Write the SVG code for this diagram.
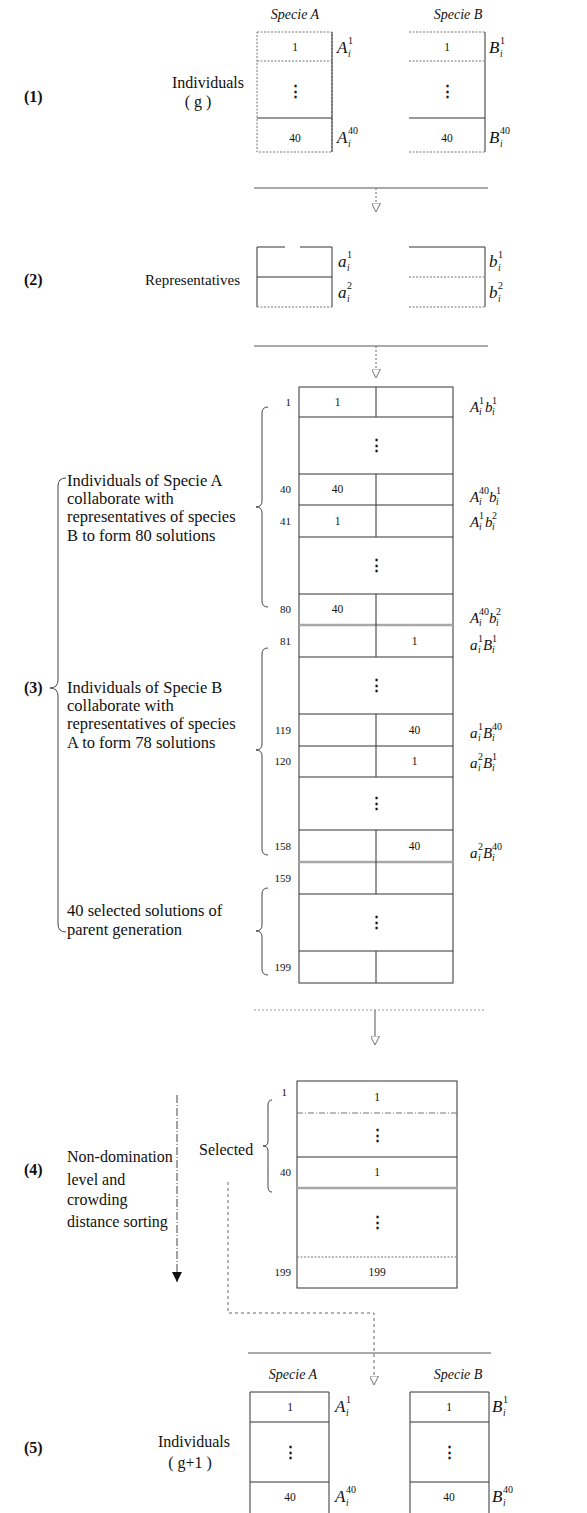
<svg xmlns="http://www.w3.org/2000/svg" width="587" height="1513" viewBox="0 0 587 1513">
<style>
text{font-family:"Liberation Serif","DejaVu Serif",serif;fill:#111}
.lab{font-size:16px}
.lab2{font-size:16.5px}
.sec{font-size:16px;font-weight:bold}
.hd{font-size:14px;font-style:italic}
.num{font-size:11px}
.cell{font-size:11.5px;text-anchor:middle}
.dots{font-size:15px;text-anchor:middle;font-weight:bold}
.m{font-size:15px;font-style:italic}
.M{font-size:17px;font-style:italic}
.s{font-size:9.5px;font-style:italic}
.sn{font-size:10px;font-style:normal}
.ln{fill:none;stroke:#333;stroke-width:1}
.fn{fill:none;stroke:#777;stroke-width:1;stroke-dasharray:2 1.5}
.gr{fill:none;stroke:#a8a8a8;stroke-width:2.5}
.br{fill:none;stroke:#444;stroke-width:1}
.cn{fill:none;stroke:#555;stroke-width:1}
.cd{fill:none;stroke:#666;stroke-width:1;stroke-dasharray:2 2}
</style>
<defs>
<marker id="ah" viewBox="0 0 10 10" refX="10" refY="5" markerWidth="9" markerHeight="9" markerUnits="userSpaceOnUse" orient="auto">
<path d="M0,0 L10,5 L0,10 Z" fill="#fff" stroke="#888" stroke-width="1.2"/>
</marker>
<marker id="bk" viewBox="0 0 10 10" refX="10" refY="5" markerWidth="10" markerHeight="10" markerUnits="userSpaceOnUse" orient="auto">
<path d="M0,0 L10,5 L0,10 Z" fill="#111"/>
</marker>
</defs>

<!-- Step labels -->
<g id="step-labels">
<text class="sec" x="24" y="102">(1)</text>
<text class="sec" x="24" y="285">(2)</text>
<text class="sec" x="24" y="693">(3)</text>
<text class="sec" x="24" y="1175">(4)</text>
<text class="sec" x="24" y="1453">(5)</text>
</g>

<!-- Section 1 -->
<g id="individuals-g">
<text class="hd" x="295" y="19" text-anchor="middle">Specie A</text>
<text class="hd" x="458" y="19" text-anchor="middle">Specie B</text>
<text class="lab" x="208" y="88" text-anchor="middle">Individuals</text>
<text class="lab" x="198" y="107" text-anchor="middle">( g )</text>
</g>
<g id="popA-g">
<rect class="fn" x="257" y="32" width="75" height="120"/>
<line class="ln" x1="332" y1="32" x2="332" y2="152"/>
<line class="fn" x1="257" y1="61" x2="332" y2="61"/>
<line class="ln" x1="257" y1="118" x2="332" y2="118"/>
<text class="cell" x="295" y="51">1</text>
<text class="dots" x="295" y="96">⋮</text>
<text class="cell" x="295" y="142">40</text>
<text class="M"><tspan x="337" y="53">A</tspan><tspan class="s" x="348" y="57">i</tspan><tspan class="sn" x="348" y="44">1</tspan></text>
<text class="M"><tspan x="337" y="143">A</tspan><tspan class="s" x="348" y="147">i</tspan><tspan class="sn" x="348" y="134">40</tspan></text>
</g>
<g id="popB-g">
<line class="fn" x1="409" y1="32" x2="485" y2="32"/>
<line class="ln" x1="485" y1="32" x2="485" y2="152"/>
<line class="fn" x1="409" y1="152" x2="485" y2="152"/>
<line class="fn" x1="409" y1="61" x2="485" y2="61"/>
<line class="ln" x1="409" y1="118" x2="485" y2="118"/>
<text class="cell" x="447" y="51">1</text>
<text class="dots" x="447" y="96">⋮</text>
<text class="cell" x="447" y="142">40</text>
<text class="M"><tspan x="489" y="53">B</tspan><tspan class="s" x="500" y="57">i</tspan><tspan class="sn" x="500" y="44">1</tspan></text>
<text class="M"><tspan x="489" y="143">B</tspan><tspan class="s" x="500" y="147">i</tspan><tspan class="sn" x="500" y="134">40</tspan></text>
</g>

<!-- Section 2 -->
<g id="representatives">
<text x="240" y="285" text-anchor="end" style="font-size:15px">Representatives</text>
</g>
<g id="repA">
<line class="ln" x1="257" y1="247" x2="285" y2="247"/>
<line class="ln" x1="300" y1="247" x2="332" y2="247"/>
<line class="ln" x1="257" y1="247" x2="257" y2="307"/>
<line class="ln" x1="332" y1="247" x2="332" y2="307"/>
<line class="ln" x1="257" y1="277" x2="332" y2="277"/>
<line class="fn" x1="257" y1="307" x2="332" y2="307"/>
<text class="M"><tspan x="338" y="267">a</tspan><tspan class="s" x="347" y="271">i</tspan><tspan class="sn" x="347" y="258">1</tspan></text>
<text class="M"><tspan x="338" y="298">a</tspan><tspan class="s" x="347" y="302">i</tspan><tspan class="sn" x="347" y="289">2</tspan></text>
</g>
<g id="repB">
<line class="ln" x1="409" y1="247" x2="485" y2="247"/>
<line class="ln" x1="485" y1="247" x2="485" y2="307"/>
<line class="fn" x1="409" y1="277" x2="485" y2="277"/>
<line class="fn" x1="409" y1="307" x2="485" y2="307"/>
<text class="M"><tspan x="489" y="267">b</tspan><tspan class="s" x="498" y="271">i</tspan><tspan class="sn" x="498" y="258">1</tspan></text>
<text class="M"><tspan x="489" y="298">b</tspan><tspan class="s" x="498" y="302">i</tspan><tspan class="sn" x="498" y="289">2</tspan></text>
</g>

<!-- Section 3 -->
<g id="solutions-text">
<path class="br" d="M66,478 Q58,478 58,486 L58,680 Q58,688 50,688 Q58,688 58,696 L58,924 Q58,932 66,932"/>
<text class="lab2" x="67" y="486">Individuals of Specie A</text>
<text class="lab2" x="67" y="504">collaborate with</text>
<text class="lab2" x="67" y="522">representatives of  species</text>
<text class="lab2" x="67" y="541">B to form 80 solutions</text>
<text class="lab2" x="67" y="693">Individuals of Specie B</text>
<text class="lab2" x="67" y="711">collaborate with</text>
<text class="lab2" x="67" y="729">representatives of species</text>
<text class="lab2" x="67" y="748">A to form 78 solutions</text>
<text class="lab2" x="67" y="916">40  selected solutions of</text>
<text class="lab2" x="67" y="935">parent generation</text>
</g>
<g id="braces-3">
<path class="br" d="M268,407 Q262,407 262,413 L262,501 Q262,507 256,507 Q262,507 262,513 L262,601 Q262,607 268,607"/>
<path class="br" d="M268,648 Q262,648 262,654 L262,744 Q262,750 256,750 Q262,750 262,756 L262,849 Q262,855 268,855"/>
<path class="br" d="M268,888 Q262,888 262,894 L262,925 Q262,931 256,931 Q262,931 262,937 L262,969 Q262,975 268,975"/>
</g>
<g id="combined-table">
<rect class="ln" x="299" y="387" width="154" height="596"/>
<path class="ln" d="M299,417H453 M299,474H453 M299,505H453 M299,537H453 M299,594H453 M299,657H453 M299,714H453 M299,746H453 M299,777H453 M299,830H453 M299,894H453 M299,951H453"/>
<line class="gr" x1="299" y1="625" x2="453" y2="625"/>
<line class="gr" x1="299" y1="862" x2="453" y2="862"/>
<path class="ln" d="M376,387V417 M376,474V537 M376,594V657 M376,714V777 M376,830V894 M376,951V983"/>
<text class="dots" x="376" y="450">⋮</text>
<text class="dots" x="376" y="570">⋮</text>
<text class="dots" x="376" y="690">⋮</text>
<text class="dots" x="376" y="808">⋮</text>
<text class="dots" x="376" y="927">⋮</text>
<text class="cell" x="337.5" y="406">1</text>
<text class="cell" x="337.5" y="493">40</text>
<text class="cell" x="337.5" y="525">1</text>
<text class="cell" x="337.5" y="613">40</text>
<text class="cell" x="414.5" y="645">1</text>
<text class="cell" x="414.5" y="734">40</text>
<text class="cell" x="414.5" y="765">1</text>
<text class="cell" x="414.5" y="850">40</text>
<text class="num" x="291" y="406" text-anchor="end">1</text>
<text class="num" x="291" y="493" text-anchor="end">40</text>
<text class="num" x="291" y="525" text-anchor="end">41</text>
<text class="num" x="291" y="613" text-anchor="end">80</text>
<text class="num" x="291" y="645" text-anchor="end">81</text>
<text class="num" x="291" y="734" text-anchor="end">119</text>
<text class="num" x="291" y="765" text-anchor="end">120</text>
<text class="num" x="291" y="850" text-anchor="end">158</text>
<text class="num" x="291" y="882" text-anchor="end">159</text>
<text class="num" x="291" y="971" text-anchor="end">199</text>
</g>
<g id="pair-labels">
<text class="m"><tspan x="470" y="412">A</tspan><tspan class="s" x="479" y="415">i</tspan><tspan class="sn" x="479" y="404">1</tspan><tspan x="485" y="412">b</tspan><tspan class="s" x="492" y="415">i</tspan><tspan class="sn" x="492" y="404">1</tspan></text>
<text class="m"><tspan x="470" y="502">A</tspan><tspan class="s" x="479" y="505">i</tspan><tspan class="sn" x="479" y="494">40</tspan><tspan x="489" y="502">b</tspan><tspan class="s" x="496" y="505">i</tspan><tspan class="sn" x="496" y="494">1</tspan></text>
<text class="m"><tspan x="470" y="527">A</tspan><tspan class="s" x="479" y="530">i</tspan><tspan class="sn" x="479" y="519">1</tspan><tspan x="485" y="527">b</tspan><tspan class="s" x="492" y="530">i</tspan><tspan class="sn" x="492" y="519">2</tspan></text>
<text class="m"><tspan x="470" y="623">A</tspan><tspan class="s" x="479" y="626">i</tspan><tspan class="sn" x="479" y="615">40</tspan><tspan x="489" y="623">b</tspan><tspan class="s" x="496" y="626">i</tspan><tspan class="sn" x="496" y="615">2</tspan></text>
<text class="m"><tspan x="470" y="650">a</tspan><tspan class="s" x="478" y="653">i</tspan><tspan class="sn" x="478" y="642">1</tspan><tspan x="483" y="650">B</tspan><tspan class="s" x="492" y="653">i</tspan><tspan class="sn" x="492" y="642">1</tspan></text>
<text class="m"><tspan x="470" y="738">a</tspan><tspan class="s" x="478" y="741">i</tspan><tspan class="sn" x="478" y="730">1</tspan><tspan x="483" y="738">B</tspan><tspan class="s" x="492" y="741">i</tspan><tspan class="sn" x="492" y="730">40</tspan></text>
<text class="m"><tspan x="470" y="768">a</tspan><tspan class="s" x="478" y="771">i</tspan><tspan class="sn" x="478" y="760">2</tspan><tspan x="483" y="768">B</tspan><tspan class="s" x="492" y="771">i</tspan><tspan class="sn" x="492" y="760">1</tspan></text>
<text class="m"><tspan x="470" y="858">a</tspan><tspan class="s" x="478" y="861">i</tspan><tspan class="sn" x="478" y="850">2</tspan><tspan x="483" y="858">B</tspan><tspan class="s" x="492" y="861">i</tspan><tspan class="sn" x="492" y="850">40</tspan></text>
</g>

<!-- Section 4 -->
<g id="sorting-text">
<text class="lab" x="67" y="1162">Non-domination</text>
<text class="lab" x="67" y="1185">level  and</text>
<text class="lab" x="67" y="1205">crowding</text>
<text class="lab" x="67" y="1227">distance sorting</text>
</g>
<g id="selected">
<text class="lab" x="199" y="1155">Selected</text>
<path class="br" d="M272,1100 Q268,1100 268,1105 L268,1141 Q268,1146 263,1146 Q268,1146 268,1151 L268,1187 Q268,1192 272,1192"/>
</g>
<g id="sorted-table">
<rect class="ln" x="297" y="1081" width="160" height="207"/>
<line class="fn" x1="297" y1="1113" x2="457" y2="1113" style="stroke-dasharray:6 2 1 2"/>
<line class="ln" x1="297" y1="1157" x2="457" y2="1157"/>
<line class="gr" x1="297" y1="1188" x2="457" y2="1188"/>
<line class="fn" x1="297" y1="1257" x2="457" y2="1257"/>
<text class="cell" x="377" y="1101">1</text>
<text class="dots" x="377" y="1140">⋮</text>
<text class="cell" x="377" y="1176">1</text>
<text class="dots" x="377" y="1227">⋮</text>
<text class="cell" x="377" y="1276">199</text>
<text class="num" x="287" y="1096" text-anchor="end">1</text>
<text class="num" x="291" y="1176" text-anchor="end">40</text>
<text class="num" x="291" y="1276" text-anchor="end">199</text>
</g>

<!-- Section 5 -->
<g id="individuals-g1">
<text class="hd" x="293" y="1379" text-anchor="middle">Specie A</text>
<text class="hd" x="458" y="1379" text-anchor="middle">Specie B</text>
<text class="lab" x="194" y="1447" text-anchor="middle">Individuals</text>
<text class="lab" x="190" y="1468" text-anchor="middle">( g+1 )</text>
</g>
<g id="newA">
<path class="ln" d="M250,1513 V1392 H329 V1513"/>
<line class="ln" x1="250" y1="1422" x2="329" y2="1422"/>
<line class="ln" x1="250" y1="1482" x2="329" y2="1482"/>
<text class="cell" x="290" y="1411">1</text>
<text class="dots" x="290" y="1457">⋮</text>
<text class="cell" x="290" y="1501">40</text>
<text class="M"><tspan x="335" y="1412">A</tspan><tspan class="s" x="346" y="1416">i</tspan><tspan class="sn" x="346" y="1403">1</tspan></text>
<text class="M"><tspan x="335" y="1502">A</tspan><tspan class="s" x="346" y="1506">i</tspan><tspan class="sn" x="346" y="1493">40</tspan></text>
</g>
<g id="newB">
<path class="ln" d="M410,1513 V1392 H489 V1513"/>
<line class="ln" x1="410" y1="1422" x2="489" y2="1422"/>
<line class="ln" x1="410" y1="1482" x2="489" y2="1482"/>
<text class="cell" x="449" y="1411">1</text>
<text class="dots" x="449" y="1457">⋮</text>
<text class="cell" x="449" y="1501">40</text>
<text class="M"><tspan x="492" y="1412">B</tspan><tspan class="s" x="503" y="1416">i</tspan><tspan class="sn" x="503" y="1403">1</tspan></text>
<text class="M"><tspan x="492" y="1502">B</tspan><tspan class="s" x="503" y="1506">i</tspan><tspan class="sn" x="503" y="1493">40</tspan></text>
</g>

<!-- Connectors -->
<g id="connectors">
<line class="cn" x1="254" y1="188" x2="488" y2="188"/>
<line class="cd" x1="376" y1="188" x2="376" y2="212" marker-end="url(#ah)"/>
<line class="cn" x1="254" y1="346" x2="488" y2="346"/>
<line class="cd" x1="376" y1="346" x2="376" y2="378" marker-end="url(#ah)"/>
<line class="cd" x1="254" y1="1010" x2="485" y2="1010" style="stroke:#999"/>
<line class="cn" x1="375" y1="1010" x2="375" y2="1045" marker-end="url(#ah)"/>
<line class="cd" x1="177" y1="1095" x2="177" y2="1282" style="stroke:#444;stroke-dasharray:8 2 1 2" marker-end="url(#bk)"/>
<path class="cd" d="M228,1182 V1313 H374 V1385" style="stroke-dasharray:3 3" marker-end="url(#ah)"/>
<line class="cn" x1="248" y1="1353" x2="491" y2="1353"/>
</g>
</svg>
